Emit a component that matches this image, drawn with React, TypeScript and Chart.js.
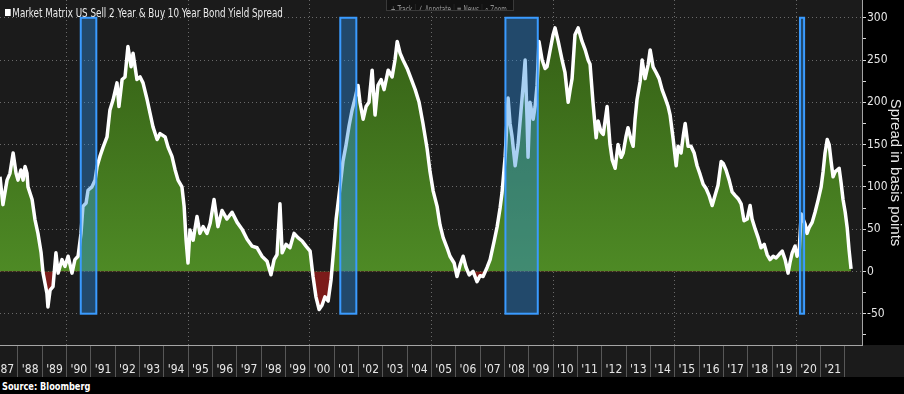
import React, { useEffect, useLayoutEffect, useRef, useState } from 'react';
import { Chart, registerables } from 'chart.js';

Chart.register(...registerables);

// ---- data (decimal years, spread in basis points) ----
const dates = [
  1987.26, 1987.38, 1987.55, 1987.67, 1987.80, 1987.92, 1988.00, 1988.12, 1988.21, 1988.29,
  1988.37, 1988.41, 1988.58, 1988.70, 1988.82, 1988.95, 1989.03, 1989.11, 1989.19, 1989.23,
  1989.32, 1989.44, 1989.56, 1989.65, 1989.81, 1989.93, 1990.06, 1990.22, 1990.34, 1990.47,
  1990.59, 1990.67, 1990.80, 1990.88, 1991.04, 1991.17, 1991.25, 1991.37, 1991.50, 1991.66,
  1991.78, 1991.91, 1992.07, 1992.15, 1992.28, 1992.40, 1992.52, 1992.65, 1992.73, 1992.89,
  1993.02, 1993.14, 1993.31, 1993.43, 1993.55, 1993.72, 1993.84, 1994.05, 1994.17, 1994.33,
  1994.46, 1994.58, 1994.74, 1994.83, 1994.91, 1994.99, 1995.07, 1995.20, 1995.36, 1995.48,
  1995.61, 1995.77, 1995.90, 1996.06, 1996.22, 1996.39, 1996.59, 1996.80, 1997.01, 1997.21,
  1997.42, 1997.62, 1997.83, 1998.03, 1998.24, 1998.40, 1998.53, 1998.65, 1998.77, 1998.86,
  1999.02, 1999.18, 1999.35, 1999.51, 1999.68, 1999.84, 2000.01, 2000.13, 2000.25, 2000.38,
  2000.50, 2000.62, 2000.75, 2000.87, 2000.99, 2001.08, 2001.24, 2001.36, 2001.49, 2001.61,
  2001.73, 2001.86, 2001.98, 2002.06, 2002.19, 2002.31, 2002.43, 2002.56, 2002.68, 2002.80,
  2002.93, 2003.05, 2003.22, 2003.38, 2003.50, 2003.59, 2003.71, 2003.83, 2004.00, 2004.16,
  2004.33, 2004.49, 2004.65, 2004.82, 2004.94, 2005.07, 2005.23, 2005.35, 2005.48, 2005.64,
  2005.76, 2005.93, 2006.05, 2006.18, 2006.30, 2006.42, 2006.55, 2006.71, 2006.87, 2007.00,
  2007.12, 2007.29, 2007.41, 2007.57, 2007.70, 2007.82, 2007.90, 2008.03, 2008.15, 2008.23,
  2008.31, 2008.44, 2008.56, 2008.68, 2008.77, 2008.85, 2008.93, 2008.97, 2009.05, 2009.18,
  2009.26, 2009.34, 2009.42, 2009.55, 2009.67, 2009.75, 2009.88, 2010.00, 2010.08, 2010.21,
  2010.37, 2010.49, 2010.62, 2010.70, 2010.78, 2010.90, 2011.03, 2011.19, 2011.32, 2011.44,
  2011.52, 2011.64, 2011.77, 2011.85, 2011.97, 2012.06, 2012.22, 2012.34, 2012.43, 2012.55,
  2012.67, 2012.80, 2012.88, 2013.00, 2013.08, 2013.21, 2013.29, 2013.37, 2013.45, 2013.58,
  2013.66, 2013.78, 2013.91, 2013.99, 2014.11, 2014.24, 2014.36, 2014.48, 2014.61, 2014.73,
  2014.81, 2014.93, 2015.06, 2015.14, 2015.26, 2015.35, 2015.43, 2015.55, 2015.67, 2015.80,
  2015.92, 2016.04, 2016.17, 2016.29, 2016.41, 2016.54, 2016.66, 2016.78, 2016.91, 2016.99,
  2017.11, 2017.24, 2017.36, 2017.48, 2017.61, 2017.73, 2017.85, 2017.98, 2018.10, 2018.18,
  2018.31, 2018.43, 2018.55, 2018.68, 2018.80, 2018.92, 2019.05, 2019.17, 2019.29, 2019.42,
  2019.54, 2019.66, 2019.75, 2019.83, 2019.95, 2020.03, 2020.12, 2020.20, 2020.28, 2020.36,
  2020.44, 2020.53, 2020.65, 2020.77, 2020.90, 2021.02, 2021.10, 2021.18, 2021.27, 2021.35,
  2021.43, 2021.51, 2021.60, 2021.68, 2021.76, 2021.84, 2021.92, 2022.01, 2022.09, 2022.17,
  2022.25,
];

const spread = [
  112, 79, 108, 116, 140, 116, 108, 120, 108, 124,
  116, 100, 85, 61, 45, 22, -2, -14, -26, -42,
  -22, -18, 22, -2, 14, 6, 18, -2, 14, 18,
  45, 77, 81, 96, 100, 108, 124, 136, 147, 159,
  191, 203, 223, 195, 227, 230, 266, 242, 258, 227,
  230, 223, 203, 187, 171, 156, 163, 159, 147, 136,
  120, 108, 100, 77, 37, 10, 49, 37, 65, 45,
  53, 45, 57, 85, 53, 72, 62, 70, 58, 50,
  38, 30, 28, 18, 12, -4, 14, 20, 80, 22,
  32, 28, 45, 40, 36, 30, 24, -6, -30, -45,
  -40, -30, -35, -10, 30, 62, 100, 130, 150, 172,
  190, 205, 220, 200, 180, 195, 200, 238, 185, 220,
  227, 215, 238, 230, 250, 272, 258, 250, 240, 228,
  215, 200, 175, 145, 118, 95, 77, 55, 40, 28,
  18, 10, -6, 8, 18, 5, -4, 0, -12, -5,
  -6, 5, 14, 35, 53, 75, 93, 136, 205, 175,
  160, 125, 150, 190, 220, 250, 180, 135, 200, 180,
  195, 220, 272, 250, 240, 242, 262, 280, 288, 272,
  250, 235, 200, 215, 228, 280, 288, 272, 262, 250,
  245, 200, 158, 178, 165, 162, 195, 150, 132, 122,
  150, 135, 140, 160, 170, 155, 148, 180, 203, 225,
  250, 228, 245, 262, 242, 235, 228, 215, 205, 195,
  185, 158, 125, 148, 140, 160, 175, 148, 148, 140,
  125, 115, 103, 98, 90, 78, 90, 102, 130, 128,
  120, 108, 94, 90, 86, 80, 60, 62, 78, 62,
  50, 40, 28, 32, 20, 14, 18, 16, 20, 24,
  14, -2, 12, 22, 30, 18, 25, 68, 62, 56,
  45, 52, 58, 70, 85, 100, 118, 140, 156, 150,
  130, 112, 118, 120, 122, 105, 85, 70, 52, 25,
  3,
];

const tickYears = [
  1987, 1988, 1989, 1990, 1991, 1992, 1993, 1994, 1995, 1996, 1997, 1998,
  1999, 2000, 2001, 2002, 2003, 2004, 2005, 2006, 2007, 2008, 2009, 2010,
  2011, 2012, 2013, 2014, 2015, 2016, 2017, 2018, 2019, 2020, 2021,
];

const boxStarts = [1990.58, 2001.25, 2008.04, 2020.15];
const boxEnds = [1991.22, 2001.91, 2009.37, 2020.32];
const boxTop = 300;
const boxBottom = -50;

const xMin = 1987.26;
const xMax = 2022.7;
const yMin = -87;
const yMax = 321;
const yStep = 25;
const yLabelStep = 50;
const gridYearStep = 5;

const titleText = 'Market Matrix US Sell 2 Year & Buy 10 Year Bond Yield Spread';
const yAxisTitle = 'Spread in basis points';
const sourceText = 'Source: Bloomberg';
const toolbarItems = [
  { icon: '+', label: 'Track' },
  { icon: '∠', label: 'Annotate' },
  { icon: '≡', label: 'News' },
  { icon: '⌕', label: 'Zoom' },
];

// ---- styles ----
const FONT = "'Liberation Sans Narrow', 'DejaVu Sans Condensed', 'Liberation Sans', Arial, sans-serif";
const BG = '#1b1b1b';
const GRID = '#6a6a6a';
const TEXT = '#e6e6e6';

function FitText(props: { text?: string; width: number; style: React.CSSProperties; children?: React.ReactNode }) {
  const ref = useRef<HTMLSpanElement>(null);
  const [k, setK] = useState(1);
  useLayoutEffect(() => {
    if (ref.current) {
      const w = ref.current.offsetWidth;
      if (w > 0) setK(props.width / w);
    }
  }, [props.text, props.width]);
  return (
    <span
      ref={ref}
      style={{
        display: 'inline-block',
        whiteSpace: 'nowrap',
        transformOrigin: '0 0',
        transform: `scaleX(${k})`,
        ...props.style,
      }}
    >
      {props.children}
      {props.text}
    </span>
  );
}

const bgPlugin = {
  id: 'bgPlugin',
  beforeDraw(chart: any) {
    const { ctx, chartArea, width, height } = chart;
    ctx.save();
    ctx.fillStyle = '#000';
    ctx.fillRect(0, 0, width, height);
    ctx.fillStyle = BG;
    ctx.fillRect(chartArea.left, chartArea.top, chartArea.right - chartArea.left, chartArea.bottom - chartArea.top);
    ctx.fillRect(0, chartArea.bottom, width, height - chartArea.bottom);
    ctx.restore();
  },
};

const boxPlugin = {
  id: 'boxPlugin',
  afterDatasetsDraw(chart: any) {
    const { ctx, scales } = chart;
    const xs = scales.x;
    const ys = scales.y;
    ctx.save();
    for (let i = 0; i < boxStarts.length; i++) {
      const x1 = xs.getPixelForValue(boxStarts[i]);
      const x2 = xs.getPixelForValue(boxEnds[i]);
      const y1 = ys.getPixelForValue(boxTop);
      const y2 = ys.getPixelForValue(boxBottom);
      ctx.fillStyle = 'rgba(46,140,223,0.41)';
      ctx.fillRect(x1, y1, x2 - x1, y2 - y1);
      ctx.strokeStyle = '#3a9bff';
      ctx.lineWidth = 2;
      ctx.strokeRect(x1, y1, x2 - x1, y2 - y1);
    }
    ctx.restore();
  },
};

export default function App() {
  const canvasRef = useRef<HTMLCanvasElement>(null);

  useEffect(() => {
    if (!canvasRef.current) return;
    const chart = new Chart(canvasRef.current, {
      type: 'line',
      data: {
        datasets: [
          {
            data: dates.map((d, i) => ({ x: d, y: spread[i] })),
            borderColor: '#ffffff',
            borderWidth: 3.5,
            pointRadius: 0,
            tension: 0,
            borderJoinStyle: 'round',
            fill: { target: 'origin', below: '#7c1c1a' },
            backgroundColor: (c: any) => {
              const ch = c.chart;
              const ys = ch.scales && ch.scales.y;
              if (!ch.chartArea || !ys) return '#4a8224';
              const g = ch.ctx.createLinearGradient(0, ys.getPixelForValue(300), 0, ys.getPixelForValue(0));
              g.addColorStop(0, '#345e15');
              g.addColorStop(1, '#4e8a25');
              return g;
            },
          } as any,
        ],
      },
      options: {
        animation: false,
        responsive: false,
        maintainAspectRatio: false,
        devicePixelRatio: 1,
        layout: { padding: 0 },
        plugins: {
          legend: { display: false },
          tooltip: { enabled: false },
          title: { display: false },
        },
        scales: {
          x: {
            type: 'linear',
            min: xMin,
            max: xMax,
            afterBuildTicks: (scale: any) => {
              scale.ticks = tickYears.map((y) => ({ value: y + 0.5 }));
            },
            afterFit: (scale: any) => {
              scale.height = 32;
              scale.paddingLeft = 0;
              scale.paddingRight = 0;
              scale.paddingTop = 0;
              scale.paddingBottom = 0;
            },
            ticks: {
              autoSkip: false,
              maxRotation: 0,
              minRotation: 0,
              color: TEXT,
              font: { family: FONT, size: 12 },
              padding: -14,
              callback: (v: any) => "'" + String(Math.floor(Number(v))).slice(2),
            },
            grid: {
              offset: true,
              drawOnChartArea: true,
              drawTicks: true,
              tickLength: 32,
              lineWidth: 1,
              color: (c: any) => {
                const t = c.tick;
                if (!t) return 'transparent';
                const yr = Math.round(t.value - 0.5);
                return yr % gridYearStep === 0 ? GRID : 'transparent';
              },
              borderDash: [1, 3],
              tickColor: '#575757',
              tickWidth: 1,
              tickBorderDash: [],
            } as any,
            border: { display: true, color: '#a5a5a5', width: 1, dash: [1, 3] },
          },
          y: {
            type: 'linear',
            position: 'right',
            min: yMin,
            max: yMax,
            afterFit: (scale: any) => {
              scale.width = 42;
              scale.paddingLeft = 0;
              scale.paddingRight = 0;
              scale.paddingTop = 0;
              scale.paddingBottom = 0;
            },
            ticks: {
              stepSize: yStep,
              includeBounds: false,
              autoSkip: false,
              color: TEXT,
              font: { family: FONT, size: 12 },
              padding: 1,
              callback: (v: any) => (Number(v) % yLabelStep === 0 ? String(v) : ''),
            },
            grid: {
              drawTicks: true,
              tickLength: 4,
              lineWidth: 1,
              color: (c: any) => (c.tick && c.tick.value % yLabelStep === 0 ? GRID : 'transparent'),
              borderDash: [1, 3],
              tickColor: '#d8d8d8',
              tickWidth: 1,
              tickBorderDash: [],
            } as any,
            border: { display: true, color: '#a5a5a5', width: 1, dash: [1, 3] },
            title: {
              display: true,
              text: yAxisTitle,
              color: TEXT,
              font: { family: "'Liberation Sans', Arial, sans-serif", size: 15 },
              padding: 0,
            },
          },
        },
      },
      plugins: [bgPlugin, boxPlugin],
    } as any);
    return () => chart.destroy();
  }, []);

  return (
    <div
      style={{
        position: 'fixed',
        left: 0,
        top: 0,
        width: 904,
        height: 394,
        background: '#000',
        overflow: 'hidden',
        fontFamily: FONT,
      }}
    >
      <canvas ref={canvasRef} width={904} height={377} style={{ display: 'block', width: 904, height: 377 }} />
      <div style={{ position: 'absolute', left: 5, top: 4, height: 16, lineHeight: '16px' }}>
        <FitText text={titleText} width={278} style={{ color: '#ebebeb', fontSize: 12 }}>
          <span
            style={{
              display: 'inline-block',
              width: 7,
              height: 7,
              background: '#fff',
              marginRight: 2,
              verticalAlign: 'middle',
              position: 'relative',
              top: -1,
            }}
          />
        </FitText>
      </div>
      <div
        style={{
          position: 'absolute',
          left: 386,
          top: -3,
          width: 126,
          height: 12,
          background: '#121212',
          border: '1px solid #3a3a3a',
          overflow: 'hidden',
        }}
      >
        <FitText width={122} style={{ color: '#8f8f8f', fontSize: 10, lineHeight: '12px', paddingLeft: 2 }}>
          {toolbarItems.map((it, i) => (
            <span
              key={it.label}
              style={{
                padding: '0 4px',
                borderLeft: i > 0 ? '1px solid #2c2c2c' : 'none',
              }}
            >
              {it.icon} {it.label}
            </span>
          ))}
        </FitText>
      </div>
      <div style={{ position: 'absolute', left: 2, top: 378, height: 14, lineHeight: '14px' }}>
        <FitText text={sourceText} width={88} style={{ color: '#ffffff', fontSize: 11, fontWeight: 'bold' }} />
      </div>
    </div>
  );
}
